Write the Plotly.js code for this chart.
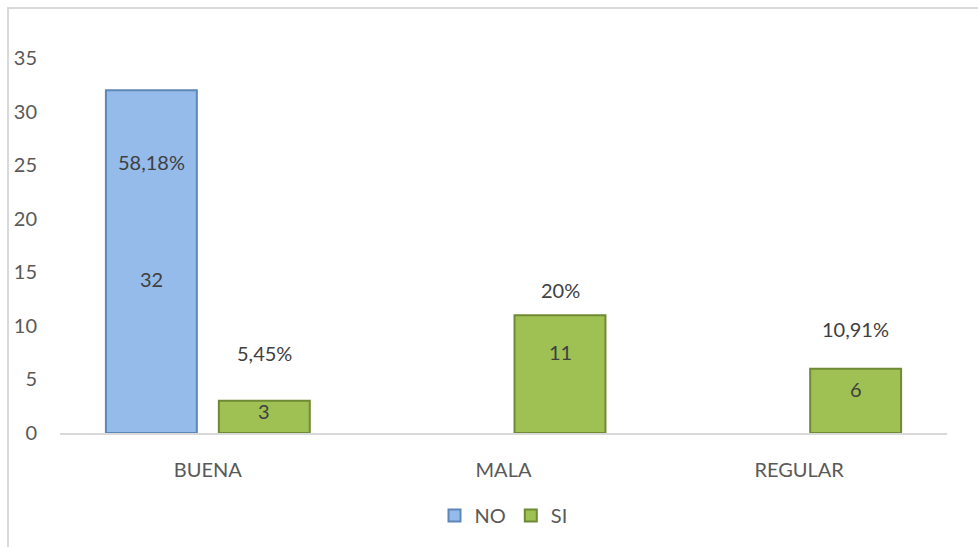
<!DOCTYPE html>
<html>
<head>
<meta charset="utf-8">
<script src="https://cdn.plot.ly/plotly-3.0.1.min.js"></script>
<style>
html,body{margin:0;padding:0;background:#fff;overflow:hidden;}
#wrap{position:absolute;left:0;top:0;width:978px;height:547px;}
#chart{position:absolute;left:0;top:0;width:978px;height:547px;}
#frame{position:absolute;left:7px;top:7px;width:1100px;height:700px;border-top:2px solid #d9d9d9;border-left:2px solid #d9d9d9;pointer-events:none;}
</style>
</head>
<body>
<div id="wrap"><div id="chart"></div><div id="frame"></div></div>
<script>
const categories = ["BUENA", "MALA", "REGULAR"];
const seriesNames = ["NO", "SI"];
const noValues = [32, 0, 0];
const siValues = [3, 11, 6];
const noPctLabels = ["58,18%", "", ""];
const siPctLabels = ["5,45%", "20%", "10,91%"];

const font = "Lato, 'Open Sans', sans-serif";
const textColor = "#404040";

const traceNo = {
  type: "bar", name: seriesNames[0], x: categories, y: noValues,
  marker: {color: "#95bbea", line: {color: "#5f86b8", width: noValues.map(v => v > 0 ? 2 : 0)}},
  hoverinfo: "x+y"
};
const traceSi = {
  type: "bar", name: seriesNames[1], x: categories, y: siValues,
  marker: {color: "#9fc153", line: {color: "#6f8a35", width: siValues.map(v => v > 0 ? 2 : 0)}},
  hoverinfo: "x+y"
};

// label placement (pixel shifts are styling only)
const noPctShift = [-72];
const siPctShift = [48, 25, 40];
const noValShift = [-17];
const siValShift = [6, 22, 12];
const slotOffset = 56.5;
const lf = {family: font, size: 20, color: textColor};
const annotations = [];
categories.forEach((c, i) => {
  if (noValues[i] > 0) {
    annotations.push({x: c, y: noValues[i] / 2, xref: "x", yref: "y", text: String(noValues[i]),
      showarrow: false, xshift: -slotOffset, yshift: noValShift[i], font: lf});
  }
  if (noPctLabels[i]) {
    annotations.push({x: c, y: noValues[i], xref: "x", yref: "y", text: noPctLabels[i],
      showarrow: false, xshift: -slotOffset, yshift: noPctShift[i], font: lf});
  }
  if (siValues[i] > 0) {
    annotations.push({x: c, y: siValues[i] / 2, xref: "x", yref: "y", text: String(siValues[i]),
      showarrow: false, xshift: slotOffset, yshift: siValShift[i], font: lf});
  }
  if (siPctLabels[i]) {
    annotations.push({x: c, y: siValues[i], xref: "x", yref: "y", text: siPctLabels[i],
      showarrow: false, xshift: slotOffset, yshift: siPctShift[i], font: lf});
  }
});

const layout = {
  width: 978, height: 547,
  margin: {l: 60, r: 31, t: 58, b: 114},
  paper_bgcolor: "rgba(0,0,0,0)", plot_bgcolor: "rgba(0,0,0,0)",
  barmode: "group", bargap: 0.236, bargroupgap: 0.195,
  font: {family: font, size: 20, color: "#595959"},
  xaxis: {
    showgrid: false, showline: true, linecolor: "#d9d9d9", linewidth: 2,
    ticks: "", ticklabelstandoff: 18,
    tickfont: {family: font, size: 20, color: "#595959"}
  },
  yaxis: {
    range: [0, 35], dtick: 5, showgrid: false, showline: false, zeroline: false,
    ticks: "", ticklabelstandoff: 22,
    tickfont: {family: font, size: 20, color: "#595959"}
  },
  legend: {
    orientation: "h", x: 0.5, xanchor: "center", y: -0.22, yanchor: "middle",
    font: {family: font, size: 20, color: "#595959"}, itemwidth: 30, traceorder: "normal"
  },
  showlegend: true,
  annotations: annotations
};

Plotly.newPlot("chart", [traceNo, traceSi], layout, {displayModeBar: false, staticPlot: true});
</script>
</body>
</html>
